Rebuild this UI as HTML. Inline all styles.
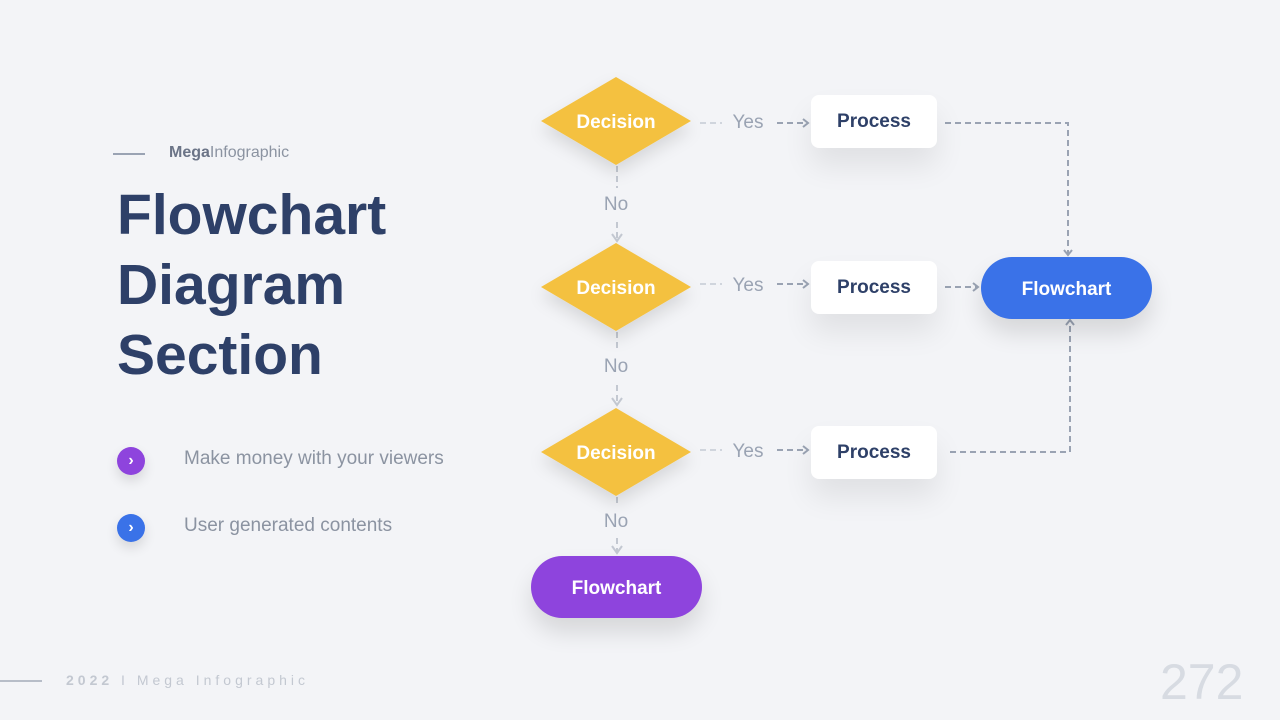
<!DOCTYPE html><html><head><style>
body{margin:0;width:1280px;height:720px;background:#f3f4f7;font-family:"Liberation Sans",sans-serif;position:relative;overflow:hidden}
.a{position:absolute}
.t{color:#2e4068;font-weight:bold;font-size:57px;line-height:70px;left:117px;top:180px}
.b{border-radius:50%;width:28px;height:28px;color:#fff;font-size:16px;text-align:center;line-height:28px;font-weight:bold;box-shadow:0 6px 12px rgba(0,0,0,.12)}
.li{color:#8b93a1;font-size:19px;left:184px}
.p{background:#fff;border-radius:8px;width:126px;height:53px;left:811px;color:#2e4068;font-weight:bold;font-size:19px;text-align:center;line-height:54px;box-shadow:0 18px 30px rgba(0,0,0,.08)}
.f{border-radius:31px;width:171px;height:62px;color:#fff;font-weight:bold;font-size:19px;text-align:center;line-height:66px;box-shadow:0 14px 24px rgba(0,0,0,.12)}
</style></head><body>
<div class="a" style="left:113px;top:153px;width:32px;height:2px;background:#9aa3b3"></div>
<div class="a" style="left:169px;top:144px;font-size:16px;color:#8b93a1"><b style="color:#6b7487">Mega</b>Infographic</div>
<div class="a t">Flowchart<br>Diagram<br>Section</div>
<div class="a b" style="left:117px;top:447px;background:#8e44dd">›</div>
<div class="a li" style="top:448px">Make money with your viewers</div>
<div class="a b" style="left:117px;top:514px;background:#3a72e8">›</div>
<div class="a li" style="top:515px">User generated contents</div>
<div class="a" style="left:0;top:680px;width:42px;height:2px;background:#b7bdc8"></div>
<div class="a" style="left:66px;top:672px;font-size:14px;letter-spacing:4px;color:#c3c8d1"><b>2022</b> I Mega Infographic</div>
<div class="a" style="left:1160px;top:653px;font-size:50px;color:#d7dbe2">272</div>
<svg class="a" style="left:0;top:0" width="1280" height="720">
<defs><filter id="s" x="-30%" y="-30%" width="160%" height="180%"><feDropShadow dx="0" dy="8" stdDeviation="8" flood-opacity=".12"/></filter>
<marker id="m" markerWidth="10" markerHeight="10" refX="7" refY="5" orient="auto" markerUnits="userSpaceOnUse"><path d="M2 1L7 5L2 9" fill="none" stroke="#9aa3b3" stroke-width="2"/></marker></defs>
<g stroke="#9aa3b3" stroke-width="2" stroke-dasharray="6 4" fill="none">
<path d="M945 123H1068V255" marker-end="url(#m)"/>
<path d="M950 452H1070V320" marker-end="url(#m)"/>
<path d="M945 287H978" marker-end="url(#m)"/>
<path d="M777 123H808" marker-end="url(#m)"/><path d="M777 284H808" marker-end="url(#m)"/><path d="M777 450H808" marker-end="url(#m)"/>
<g stroke="#d0d5dd"><path d="M700 123H722M700 284H722M700 450H722"/></g>
<g stroke="#c3c8d1"><path d="M617 166V188M617 222V240M617 332V352M617 385V405M617 497V505M617 538V552"/></g>
</g>
<g stroke="#c3c8d1" stroke-width="2" fill="none"><path d="M612 234L617 241L622 234M612 398L617 405L622 398M612 546L617 553L622 546"/></g>
<g fill="#f4c140" filter="url(#s)">
<path d="M616 77L691 121L616 165L541 121Z"/><path d="M616 243L691 287L616 331L541 287Z"/><path d="M616 408L691 452L616 496L541 452Z"/></g>
<g fill="#fff" font-weight="bold" font-size="19" text-anchor="middle" font-family="Liberation Sans,sans-serif">
<text x="616" y="128">Decision</text><text x="616" y="294">Decision</text><text x="616" y="459">Decision</text></g>
<g fill="#9aa3b3" font-size="19" text-anchor="middle" font-family="Liberation Sans,sans-serif">
<text x="748" y="128">Yes</text><text x="748" y="291">Yes</text><text x="748" y="457">Yes</text>
<text x="616" y="210">No</text><text x="616" y="372">No</text><text x="616" y="527">No</text></g>
</svg>
<div class="a p" style="top:95px">Process</div>
<div class="a p" style="top:261px">Process</div>
<div class="a p" style="top:426px">Process</div>
<div class="a f" style="left:981px;top:257px;background:#3a72e8">Flowchart</div>
<div class="a f" style="left:531px;top:556px;background:#8e44dd">Flowchart</div>
</body></html>
